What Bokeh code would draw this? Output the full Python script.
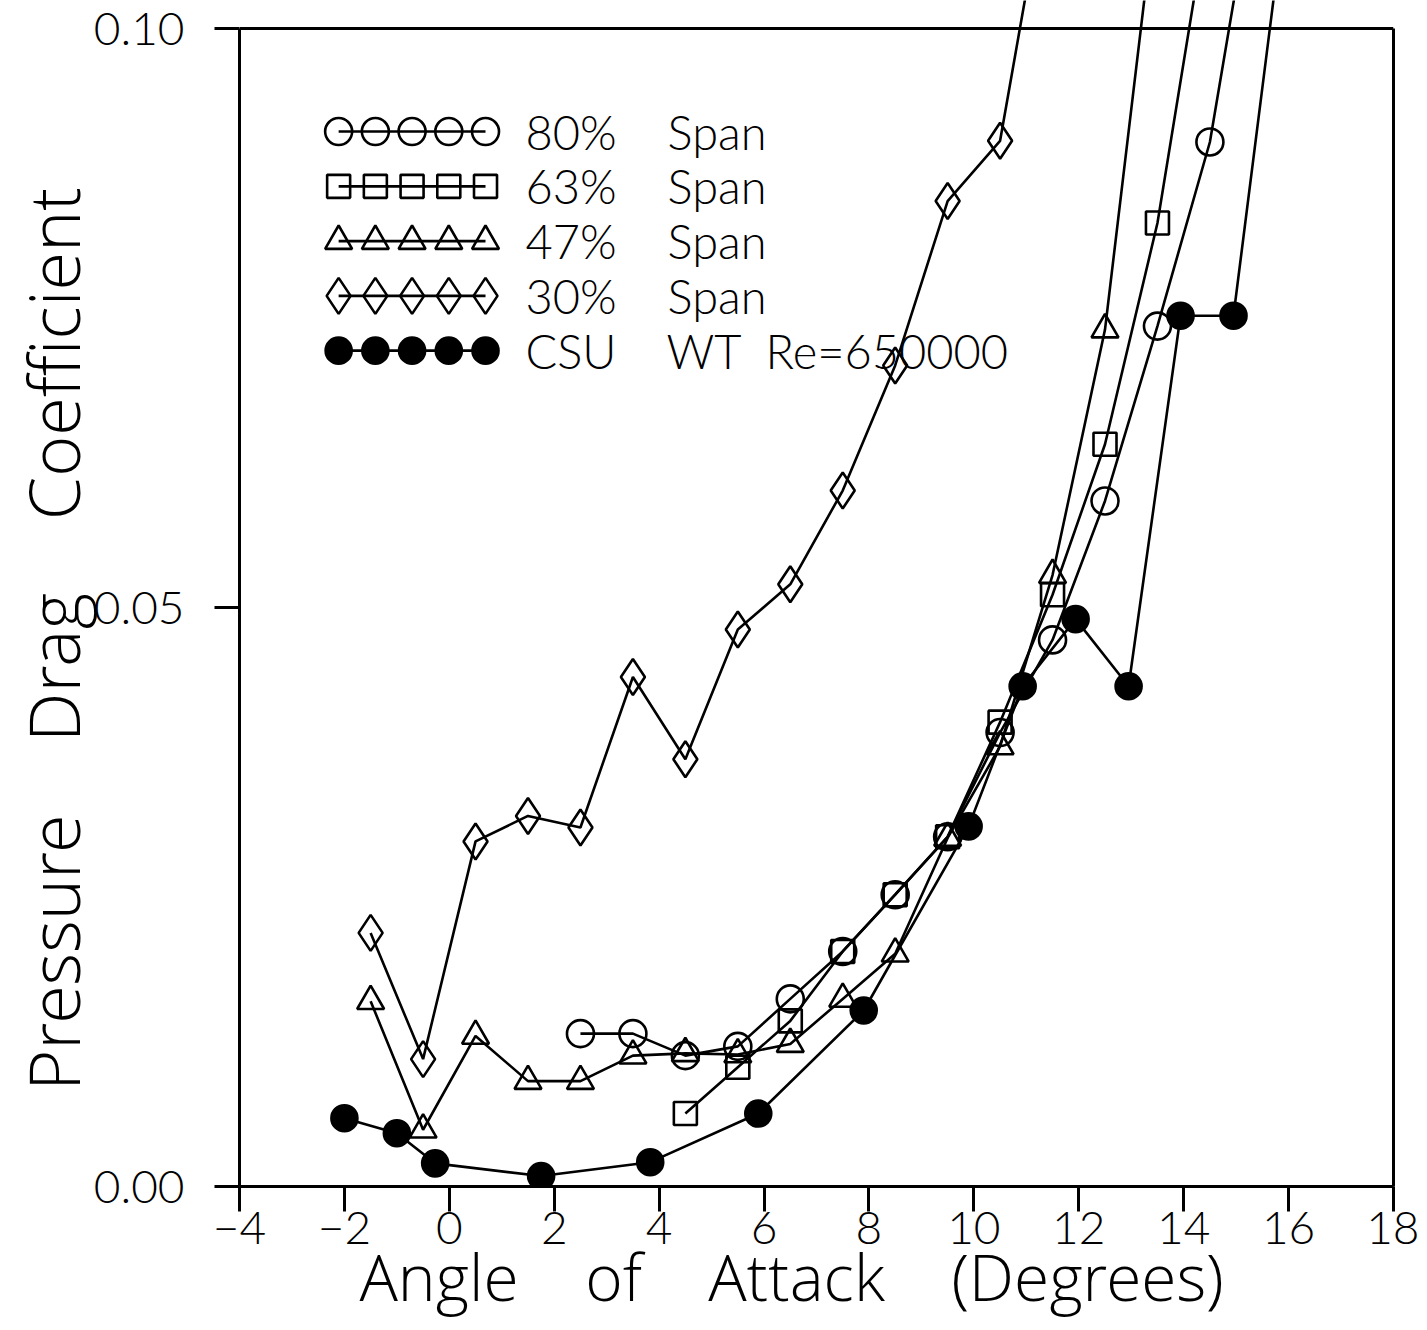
import numpy as np
from bokeh.plotting import figure
from bokeh.models import Range1d, LinearAxis, FixedTicker, Span, PrintfTickFormatter
from bokeh.core.properties import value
from bokeh.embed import file_html
from bokeh.resources import INLINE

# ---------------- data ----------------
aoa_80 = [2.5, 3.5, 4.5, 5.5, 6.5, 7.5, 8.5, 9.5, 10.5, 11.5, 12.5, 13.5, 14.5, 15.5]
cd_80 = [0.0132, 0.0132, 0.0113, 0.0121, 0.0162, 0.0203, 0.0252, 0.0302, 0.0392,
         0.0472, 0.0592, 0.0743, 0.0902, 0.117]

aoa_63 = [4.5, 5.5, 6.5, 7.5, 8.5, 9.5, 10.5, 11.5, 12.5, 13.5, 14.5]
cd_63 = [0.0063, 0.0103, 0.0143, 0.0203, 0.0252, 0.0302, 0.0401, 0.0511, 0.0641,
         0.0832, 0.111]

aoa_47 = [-1.5, -0.5, 0.5, 1.5, 2.5, 3.5, 4.5, 5.5, 6.5, 7.5, 8.5, 9.5, 10.5, 11.5,
          12.5, 13.5]
cd_47 = [0.0160, 0.0049, 0.0130, 0.0091, 0.0091, 0.0113, 0.0115, 0.0114, 0.0123,
         0.0162, 0.0201, 0.0301, 0.0380, 0.0528, 0.0740, 0.112]

aoa_30 = [-1.5, -0.5, 0.5, 1.5, 2.5, 3.5, 4.5, 5.5, 6.5, 7.5, 8.5, 9.5, 10.5, 11.5]
cd_30 = [0.0219, 0.0110, 0.0298, 0.0320, 0.0310, 0.0440, 0.0369, 0.0481, 0.0520,
         0.0601, 0.0709, 0.0851, 0.0903, 0.116]

aoa_csu = [-2.0, -1.0, -0.27, 1.75, 3.83, 5.89, 7.9, 9.9, 10.93, 11.94, 12.95,
           13.94, 14.95, 15.95]
cd_csu = [0.0059, 0.0046, 0.0020, 0.0009, 0.0021, 0.0063, 0.0152, 0.0311, 0.0432,
          0.0490, 0.0432, 0.0752, 0.0752, 0.111]

x_ticks = [-4, -2, 0, 2, 4, 6, 8, 10, 12, 14, 16, 18]
y_ticks = [0.0, 0.05, 0.10]

NB = "\u00a0"
series_labels = ["80%" + NB * 3 + " Span", "63%" + NB * 3 + " Span",
                 "47%" + NB * 3 + " Span", "30%" + NB * 3 + " Span",
                 "CSU" + NB * 3 + " WT" + NB + " Re=650000"]

# wide word spacing as in the original; trailing hard spaces nudge the centring
GAP = NB * 3 + " "
x_title = "Angle" + GAP + "of" + GAP + "Attack" + GAP + "(Degrees)" + NB * 3
y_title = "Pressure" + GAP + "Drag" + GAP + "Coefficient" + NB * 5

TITLE_FONT = "Open Sans Light, Lato Light"
LABEL_FONT = "Lato Light"

# ---------------- figure ----------------
W, H = 1419, 1322
FL, FR, FB = 239, 1393, 1186          # frame left / right / bottom (canvas px)
Y_TOP_PX = 28                          # canvas px where y = 0.10
y_scale = (FB - Y_TOP_PX) / 0.10
y_end = 0.10 + Y_TOP_PX / y_scale      # let the lines run up to the canvas edge

p = figure(width=W, height=H, output_backend="svg", toolbar_location=None,
           x_range=Range1d(-4, 18), y_range=Range1d(0, y_end),
           min_border_left=FL, min_border_right=W - FR, min_border_top=0,
           min_border_bottom=H - FB,
           x_axis_label=x_title, y_axis_label=y_title)
p.outline_line_color = None
p.grid.visible = False
p.background_fill_color = "white"
p.border_fill_color = "white"

for ax in (p.xaxis[0], p.yaxis[0]):
    ax.axis_line_width = 3
    ax.axis_line_color = "black"
    ax.major_tick_line_width = 3
    ax.major_tick_line_color = "black"
    ax.major_tick_in = 0
    ax.major_tick_out = 25
    ax.minor_tick_line_color = None
    ax.major_label_text_font = LABEL_FONT
    ax.major_label_text_font_size = "46px"
    ax.major_label_text_color = "black"
    ax.axis_label_text_font = TITLE_FONT
    ax.axis_label_text_font_style = "normal"
    ax.axis_label_text_color = "black"

xa = p.xaxis[0]
xa.ticker = FixedTicker(ticks=x_ticks)
xa.major_label_standoff = 0
xa.axis_label_text_font_size = "64px"
xa.axis_label_standoff = -14

ya = p.yaxis[0]
ya.ticker = FixedTicker(ticks=y_ticks)
ya.formatter = PrintfTickFormatter(format="%.2f")
ya.bounds = (0, 0.10)
ya.major_label_standoff = 30
ya.axis_label_text_font_size = "70px"
ya.axis_label_standoff = -10

# right frame line
ra = LinearAxis(bounds=(0, 0.10), ticker=FixedTicker(ticks=[]),
                axis_line_width=3, axis_line_color="black",
                major_tick_in=0, major_tick_out=0, minor_tick_in=0, minor_tick_out=0,
                major_label_text_font_size="0px", major_label_standoff=0)
p.add_layout(ra, "right")

# top frame line
p.add_layout(Span(location=0.10, dimension="width", line_color="black", line_width=3))

# ---------------- series ----------------
series = [
    (aoa_80, cd_80, "circle", 27, None),
    (aoa_63, cd_63, "square", 23, None),
    (aoa_47, cd_47, "triangle", 27, None),
    (aoa_30, cd_30, "diamond", 36, None),
    (aoa_csu, cd_csu, "circle", 26, "black"),
]

LW = 2.6
for xs, ys, mk, sz, fc in series:
    p.line(xs, ys, line_color="black", line_width=LW)
    p.scatter(xs, ys, marker=mk, size=sz, fill_color=fc, line_color="black",
              line_width=LW)

# ---------------- legend (drawn like the original: five symbols per row) ----------------
leg_x0, leg_dx = -2.11, 0.70
leg_y0, leg_dy = 0.0911, 0.00473
leg_text_x = 1.45
for i, ((xs, ys, mk, sz, fc), lab) in enumerate(zip(series, series_labels)):
    ly = leg_y0 - i * leg_dy
    lx = [leg_x0 + k * leg_dx for k in range(5)]
    p.line(lx, [ly] * 5, line_color="black", line_width=LW)
    p.scatter(lx, [ly] * 5, marker=mk, size=sz, fill_color=fc, line_color="black",
              line_width=LW)
    p.text(x=[leg_text_x], y=[ly], text=[lab], text_font=value(LABEL_FONT),
           text_font_size="47px", text_baseline="middle", text_align="left",
           text_color="black")

open("out.html", "w").write(file_html(p, INLINE))
